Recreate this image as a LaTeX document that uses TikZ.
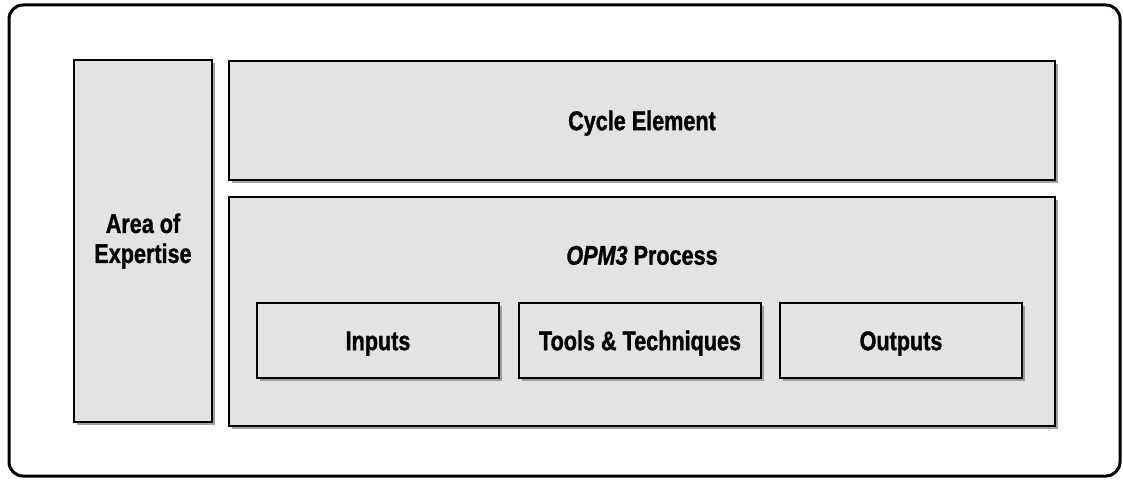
\documentclass[tikz,border=0pt]{standalone}
\usepackage{fontspec}
\setmainfont{Liberation Sans}[FakeStretch=0.8, BoldFeatures={FakeBold=1.2}, BoldItalicFeatures={FakeBold=1.2}]
\usepackage{tikz}
\usetikzlibrary{shadows}
\tikzset{
  pbox/.style={draw, line width=1.3pt, fill=black!11, inner sep=0pt, outer sep=0pt,
    font=\bfseries\fontsize{13.5}{15}\selectfont, align=center,
    drop shadow={shadow xshift=1.5pt, shadow yshift=-1.5pt, fill=black!45, opacity=0.8}},
  capline/.style={text height=9.7pt, text depth=0pt},
  plabel/.style={font=\bfseries\fontsize{13.5}{15}\selectfont, inner sep=0pt}
}

\begin{document}
\begin{tikzpicture}[x=0.5pt,y=-0.5pt]
    \useasboundingbox (0,0) rectangle (1123,480);
    \draw[line width=1.5pt, rounded corners=7pt] (9,5) rectangle (1120,476);
    \node[pbox, minimum width=69pt, minimum height=181pt] (area) at (143,241)
      {Area of\\Expertise};
    \node[pbox, capline, minimum width=413pt, minimum height=59.5pt] (cycle) at (642,120.5)
      {Cycle Element};
    \node[pbox, minimum width=413pt, minimum height=114.5pt] (process) at (642,311.5) {};
    \node[plabel, capline] (processname) at (642,255) {\textit{OPM3} Process};
    \node[pbox, capline, minimum width=121pt, minimum height=37.5pt] (inputs) at (378,340.5)
      {Inputs};
    \node[pbox, capline, minimum width=121pt, minimum height=37.5pt] (tools) at (640,340.5)
      {Tools \& Techniques};
    \node[pbox, capline, minimum width=121pt, minimum height=37.5pt] (outputs) at (901,340.5)
      {Outputs};
\end{tikzpicture}
\end{document}
